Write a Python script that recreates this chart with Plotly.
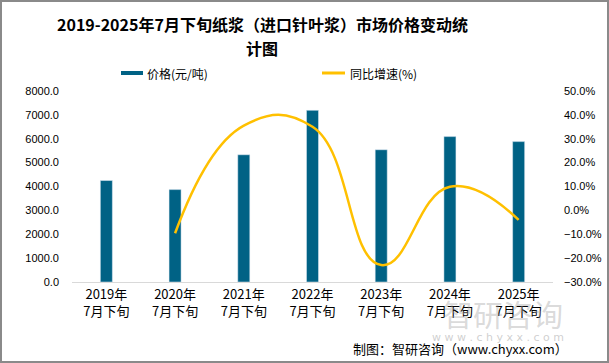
import plotly.graph_objects as go

categories = ["2019年<br>7月下旬", "2020年<br>7月下旬", "2021年<br>7月下旬", "2022年<br>7月下旬",
              "2023年<br>7月下旬", "2024年<br>7月下旬", "2025年<br>7月下旬"]
price = [4250, 3870, 5330, 7190, 5540, 6090, 5880]
growth = [None, -9.6, 35.5, 35.0, -22.9, 9.9, -4.0]

W, H = 609, 363
FONT = "Noto Sans CJK SC"
TICKFONT = "Liberation Sans"
BAR_C = "#006285"
LINE_C = "#FFC000"
L, R, T, B = 72, 56, 91, 81

fig = go.Figure()
fig.add_trace(go.Bar(x=categories, y=price, name="价格(元/吨)", marker_color=BAR_C,
                     width=0.175, yaxis="y"))
fig.add_trace(go.Scatter(x=categories, y=growth, name="同比增速(%)", mode="lines",
                         line=dict(color=LINE_C, width=2.5, shape="spline", smoothing=1.3),
                         yaxis="y2", connectgaps=False))

fig.update_layout(
    width=W, height=H,
    margin=dict(l=L, r=R, t=T, b=B, autoexpand=False),
    paper_bgcolor="white", plot_bgcolor="white",
    showlegend=False,
    font=dict(family=FONT, size=11, color="#000"),
    xaxis=dict(type="category", showgrid=False, showline=True, linecolor="#D9D9D9",
               linewidth=1, ticks="", tickfont=dict(size=13, family=FONT), ticklen=0),
    yaxis=dict(range=[0, 8000], dtick=1000, tickformat=".1f", showgrid=False,
               zeroline=False, showline=False, ticklabelstandoff=12,
               tickfont=dict(size=11, family=TICKFONT)),
    yaxis2=dict(range=[-30, 50], dtick=10, tickformat=".1f", ticksuffix="%", overlaying="y",
                side="right", showgrid=False, zeroline=False, showline=False,
                ticklabelstandoff=10, tickfont=dict(size=11, family=TICKFONT)),
)


def px(x):
    return (x - L) / (W - L - R)


def py(y):
    return (H - B - y) / (H - T - B)


# title (two lines)
fig.add_annotation(text="<b>2019-2025年7月下旬纸浆（进口针叶浆）市场价格变动统</b>",
                   xref="paper", yref="paper", x=px(262), y=py(24), xanchor="center",
                   yanchor="middle", showarrow=False, font=dict(size=16, family=FONT, color="#000"))
fig.add_annotation(text="<b>计图</b>",
                   xref="paper", yref="paper", x=px(262), y=py(48), xanchor="center",
                   yanchor="middle", showarrow=False, font=dict(size=16, family=FONT, color="#000"))

# manual legend
fig.add_shape(type="rect", xref="paper", yref="paper", x0=px(121), x1=px(143),
              y0=py(71), y1=py(75), fillcolor=BAR_C, line_width=0)
fig.add_annotation(text="价格(元/吨)", xref="paper", yref="paper", x=px(145), y=py(73),
                   xanchor="left", yanchor="middle", showarrow=False, font=dict(size=12, family=FONT))
fig.add_shape(type="line", xref="paper", yref="paper", x0=px(322), x1=px(345),
              y0=py(73), y1=py(73), line=dict(color=LINE_C, width=3))
fig.add_annotation(text="同比增速(%)", xref="paper", yref="paper", x=px(348), y=py(73),
                   xanchor="left", yanchor="middle", showarrow=False, font=dict(size=12, family=FONT))

# watermark
fig.add_annotation(text="智研咨询", xref="paper", yref="paper", x=px(565), y=py(313),
                   xanchor="right", yanchor="middle", showarrow=False,
                   font=dict(size=30, family=FONT, color="rgba(160,160,160,0.4)"))
fig.add_annotation(text="w w w . c h y x x . c o m", xref="paper", yref="paper", x=px(566), y=py(337),
                   xanchor="right", yanchor="middle", showarrow=False,
                   font=dict(size=11, family="DejaVu Sans", color="rgba(160,160,160,0.5)"))

# source
fig.add_annotation(text="制图：智研咨询（www.chyxx.com）", xref="paper", yref="paper", x=px(570), y=py(348),
                   xanchor="right", yanchor="middle", showarrow=False,
                   font=dict(size=13, family=FONT, color="#000"))

post = (
    "document.body.style.margin='0';document.body.style.overflow='hidden';"
    "var f=document.createElement('div');"
    "f.style.cssText='position:fixed;left:0;top:0;width:609px;height:363px;"
    "border:2px solid #8a8a8a;box-sizing:border-box;pointer-events:none;z-index:1000;';"
    "document.body.appendChild(f);"
)
fig.write_html("out.html", post_script=post, config={"displayModeBar": False})
